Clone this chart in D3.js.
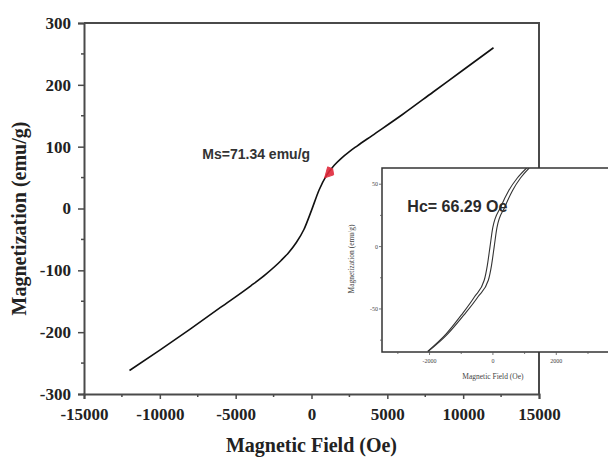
<!DOCTYPE html>
<html>
<head>
<meta charset="utf-8">
<script src="https://cdn.jsdelivr.net/npm/d3@7"></script>
<style>
  body { margin: 0; background: #fff; }
  svg { display: block; }
</style>
</head>
<body>
<div id="chart"></div>
<script>
// main M-H curve (Oe, emu/g)
const fieldMain = [-12000, -10000, -8000, -6000, -4000, -3000, -2000, -1500, -1000, -500, 0, 500, 1000, 1500, 2000, 2500, 3000, 4000, 6000, 8000, 10000, 12000];
const magMain   = [-262, -229, -195, -160, -125, -106, -84, -71, -55, -34, -3, 30, 54, 70, 82, 92, 101, 118, 152, 188, 224, 260];

// inset: the two branches of the loop near zero field
const insetMag       = [-84, -70, -55, -40, -27, -15, 0, 15, 32, 45, 55, 63];
const insetFieldDown = [-2060, -1475, -1000, -575, -275, -176, -91, -6, 250, 500, 770, 1064];
const insetFieldUp   = [-2040, -1425, -920, -465, -145, -44, 41, 126, 380, 620, 870, 1144];

const xTicks = [-15000, -10000, -5000, 0, 5000, 10000, 15000];
const yTicks = [-300, -200, -100, 0, 100, 200, 300];
const insetXTicks = [-2000, 0, 2000];
const insetXMinor = [-3000, -1000, 1000, 3000];
const insetYTicks = [-50, 0, 50];
const insetYMinor = [-75, -25, 25];

const width = 608, height = 458;
const serif = "'Liberation Serif', 'Times New Roman', serif";
const sans = "'Liberation Sans', Arial, sans-serif";
const axisColor = "#4a4a4a";

const svg = d3.select("#chart").append("svg")
    .attr("width", width)
    .attr("height", height);

const x = d3.scaleLinear().domain([-15000, 15000]).range([84, 539]);
const y = d3.scaleLinear().domain([-300, 300]).range([394, 23]);

// frame (top + right)
svg.append("path")
    .attr("d", `M${x(-15000)},${y(300)}H${x(15000)}V${y(-300)}`)
    .attr("fill", "none")
    .attr("stroke", axisColor)
    .attr("stroke-width", 2);

// bottom axis
const xAxis = svg.append("g")
    .attr("transform", `translate(0,${y(-300)})`)
    .call(d3.axisBottom(x).tickValues(xTicks).tickSize(5).tickPadding(9).tickFormat(d => String(d)));
xAxis.append("g").selectAll("line")
    .data(d3.range(-12500, 15000, 5000))
    .join("line")
    .attr("x1", d => x(d)).attr("x2", d => x(d))
    .attr("y1", 0).attr("y2", 3)
    .attr("stroke", axisColor).attr("stroke-width", 1.5);

// left axis
const yAxis = svg.append("g")
    .attr("transform", `translate(${x(-15000)},0)`)
    .call(d3.axisLeft(y).tickValues(yTicks).tickSize(6).tickPadding(7).tickFormat(d => String(d)));
yAxis.append("g").selectAll("line")
    .data(d3.range(-250, 300, 100))
    .join("line")
    .attr("y1", d => y(d)).attr("y2", d => y(d))
    .attr("x1", 0).attr("x2", -3)
    .attr("stroke", axisColor).attr("stroke-width", 1.5);

for (const ax of [xAxis, yAxis]) {
    ax.select(".domain").attr("stroke", axisColor).attr("stroke-width", 2);
    ax.selectAll(".tick line").attr("stroke", axisColor).attr("stroke-width", 1.5);
    ax.selectAll(".tick text")
        .attr("fill", "#222")
        .style("font-family", serif)
        .style("font-size", "17px")
        .style("font-weight", "bold");
}

// axis titles
svg.append("text")
    .attr("x", x(0))
    .attr("y", 452)
    .attr("text-anchor", "middle")
    .style("font-family", serif)
    .style("font-size", "20px")
    .style("font-weight", "bold")
    .attr("fill", "#222")
    .text("Magnetic Field (Oe)");

svg.append("text")
    .attr("transform", `translate(26,${y(0) + 10}) rotate(-90)`)
    .attr("text-anchor", "middle")
    .style("font-family", serif)
    .style("font-size", "20px")
    .style("font-weight", "bold")
    .attr("fill", "#222")
    .text("Magnetization (emu/g)");

// main curve
const mainData = fieldMain.map((h, i) => [h, magMain[i]]);
const line = d3.line()
    .x(d => x(d[0]))
    .y(d => y(d[1]))
    .curve(d3.curveMonotoneX);

svg.append("path")
    .datum(mainData)
    .attr("d", line)
    .attr("fill", "none")
    .attr("stroke", "#111")
    .attr("stroke-width", 1.6);

// Ms annotation
svg.append("text")
    .attr("x", x(-7200))
    .attr("y", y(80))
    .style("font-family", sans)
    .style("font-size", "14px")
    .style("font-weight", "bold")
    .attr("fill", "#333")
    .text("Ms=71.34 emu/g");

const ax0 = x(1000), ay0 = y(56);
svg.append("path")
    .attr("d", `M${ax0 - 2},${ay0 + 4}L${ax0 + 6},${ay0 - 5}L${ax0 + 1},${ay0 - 7}L${ax0 - 2},${ay0 + 4}L${ax0 + 7},${ay0 + 1}L${ax0 + 6},${ay0 - 5}Z`)
    .attr("fill", "#e0283a")
    .attr("stroke", "#e0283a")
    .attr("stroke-width", 1)
    .attr("opacity", 0.9);

// ---------- inset ----------
const ix = d3.scaleLinear().domain([-3500, 3600]).range([382, 607]);
const iy = d3.scaleLinear().domain([-84.5, 63]).range([352, 168]);

svg.append("rect")
    .attr("x", ix(-3500))
    .attr("y", iy(63))
    .attr("width", 240)
    .attr("height", iy(-84.5) - iy(63))
    .attr("fill", "#fff")
    .attr("stroke", "#333")
    .attr("stroke-width", 1.5);

svg.append("clipPath").attr("id", "insetClip")
    .append("rect")
    .attr("x", ix(-3500))
    .attr("y", iy(63))
    .attr("width", 240)
    .attr("height", iy(-84.5) - iy(63));

const inLine = d3.line()
    .x(d => ix(d[0]))
    .y(d => iy(d[1]))
    .curve(d3.curveMonotoneX);

const branches = [insetFieldDown, insetFieldUp].map(hs => hs.map((h, i) => [h, insetMag[i]]));
svg.append("g")
    .attr("clip-path", "url(#insetClip)")
    .selectAll("path")
    .data(branches)
    .join("path")
    .attr("d", inLine)
    .attr("fill", "none")
    .attr("stroke", "#333")
    .attr("stroke-width", 1.1);

// inset ticks
const iBottom = iy(-84.5), iLeft = ix(-3500);
const ig = svg.append("g").attr("stroke", "#555").attr("stroke-width", 0.8);
ig.selectAll(".xt")
    .data(insetXTicks.concat(insetXMinor))
    .join("line")
    .attr("x1", d => ix(d)).attr("x2", d => ix(d))
    .attr("y1", iBottom).attr("y2", d => iBottom + (insetXTicks.includes(d) ? 3 : 2));
ig.selectAll(".yt")
    .data(insetYTicks.concat(insetYMinor))
    .join("line")
    .attr("y1", d => iy(d)).attr("y2", d => iy(d))
    .attr("x1", iLeft).attr("x2", d => iLeft - (insetYTicks.includes(d) ? 3 : 2));

svg.append("g").selectAll("text")
    .data(insetXTicks)
    .join("text")
    .attr("x", d => ix(d))
    .attr("y", iBottom + 11)
    .attr("text-anchor", "middle")
    .style("font-family", serif)
    .style("font-size", "6px")
    .attr("fill", "#444")
    .text(d => d);

svg.append("g").selectAll("text")
    .data(insetYTicks)
    .join("text")
    .attr("x", iLeft - 4)
    .attr("y", d => iy(d) + 2)
    .attr("text-anchor", "end")
    .style("font-family", serif)
    .style("font-size", "6px")
    .attr("fill", "#444")
    .text(d => d);

svg.append("text")
    .attr("x", ix(0))
    .attr("y", iBottom + 27)
    .attr("text-anchor", "middle")
    .style("font-family", serif)
    .style("font-size", "7.5px")
    .attr("fill", "#444")
    .text("Magnetic Field (Oe)");

svg.append("text")
    .attr("transform", `translate(${iLeft - 28},${iy(-10)}) rotate(-90)`)
    .attr("text-anchor", "middle")
    .style("font-family", serif)
    .style("font-size", "7.5px")
    .attr("fill", "#444")
    .text("Magnetization (emu/g)");

svg.append("text")
    .attr("x", ix(-2700))
    .attr("y", iy(27.5))
    .style("font-family", sans)
    .style("font-size", "16px")
    .style("font-weight", "bold")
    .attr("fill", "#2a2a2a")
    .text("Hc= 66.29 Oe");
</script>
</body>
</html>
